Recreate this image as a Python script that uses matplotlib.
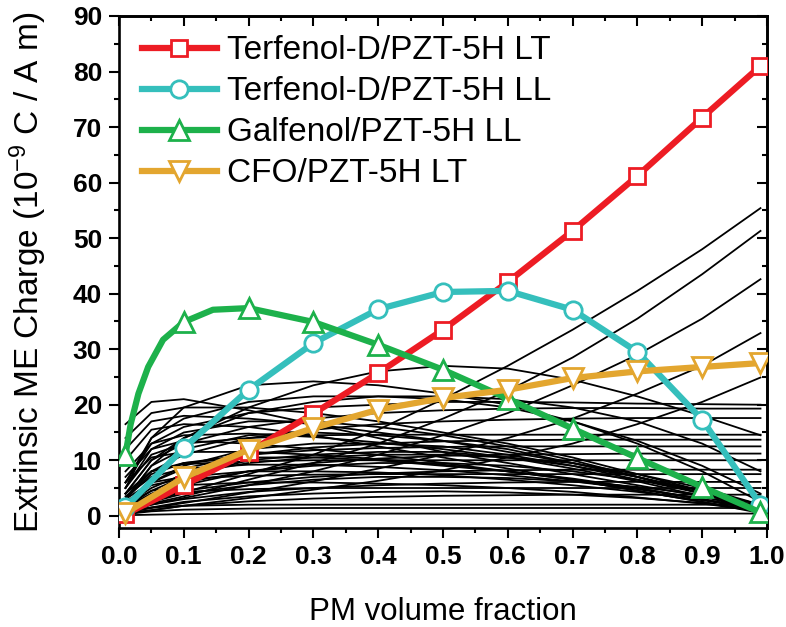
import matplotlib
matplotlib.use("Agg")
import matplotlib.pyplot as plt
from matplotlib.ticker import MultipleLocator

plt.rcParams['font.family'] = ['Liberation Sans', 'DejaVu Sans']
plt.rcParams['mathtext.default'] = 'regular'

# PM volume fraction where markers sit
x_pts = [0.01, 0.1, 0.2, 0.3, 0.4, 0.5, 0.6, 0.7, 0.8, 0.9, 0.99]

terf_lt = [0.3, 5.5, 11.5, 18.4, 25.7, 33.5, 42.1, 51.3, 61.2, 71.7, 81.0]
terf_ll = [1.5, 12.2, 22.7, 31.1, 37.2, 40.3, 40.5, 37.1, 29.5, 17.3, 2.0]
cfo_lt = [0.5, 6.9, 11.9, 15.8, 19.1, 21.2, 22.7, 24.8, 26.0, 26.8, 27.5]

# galfenol curve read at a few extra places near the steep start
galf_x = [0.01, 0.018, 0.03, 0.045, 0.068, 0.1, 0.145, 0.2, 0.3, 0.4, 0.5, 0.6, 0.7, 0.8, 0.9, 0.99]
galf_ll = [11.0, 16.5, 22.0, 26.8, 31.7, 34.9, 37.1, 37.4, 34.9, 30.8, 26.3, 21.1, 15.7, 10.4, 5.2, 0.6]
galf_marks = [0, 5, 7, 8, 9, 10, 11, 12, 13, 14, 15]

# thin black background curves
x_bg = [0.01, 0.05, 0.1, 0.2, 0.3, 0.4, 0.5, 0.6, 0.7, 0.8, 0.9, 0.99]
bg_curves = [
    [1.5, 2.8, 4.2, 7.5, 11, 15.5, 21, 27, 33.5, 40.5, 48, 55.4],
    [1.0, 2.2, 3.5, 6.5, 9.5, 13, 17.5, 22.5, 28.5, 35.5, 43.5, 51.3],
    [1.0, 2.0, 3.2, 5.5, 8, 11, 14.5, 18.5, 23.5, 29, 35.5, 42.6],
    [0.6, 1.4, 2.3, 4.2, 6.2, 8.5, 11, 14, 17.5, 22, 27, 32.9],
    [0.5, 1.0, 1.8, 3.2, 4.7, 6.3, 8.2, 10.5, 13, 16.5, 20.5, 24.9],
    [3, 9, 14, 19.5, 23.5, 26, 27, 26.5, 24.5, 21.5, 18, 14.5],
    [5, 14, 19.5, 23.5, 24.2, 23.5, 22, 20, 17, 13, 8, 2.5],
    [16.5, 20.5, 21, 19, 16.5, 14, 11.5, 9.5, 7.5, 5.5, 3.5, 1.2],
    [6, 14, 17.5, 20.5, 21.5, 21.5, 21, 19.5, 17, 13.5, 9, 4],
    [4, 10, 14, 18.5, 20.5, 21.5, 21.5, 21, 19.5, 17, 13, 8],
    [12, 17, 18, 17.5, 16.5, 15, 13.5, 11.5, 9.5, 7, 4, 1],
    [14, 18.5, 19.5, 19.5, 18.5, 17, 15, 13, 10.5, 7.5, 4.5, 1.5],
    [6, 13, 16, 18.5, 19.5, 20, 20.5, 20.5, 20.4, 20.2, 20.1, 20.0],
    [4, 10, 13, 16, 17.5, 18.5, 19, 19.3, 19.4, 19.4, 19.3, 19.3],
    [3, 8, 11, 14, 15.5, 16.5, 17, 17.3, 17.5, 17.6, 17.6, 17.6],
    [5, 11, 13, 14, 14.5, 14.6, 14.6, 14.6, 14.6, 14.6, 14.6, 14.6],
    [2, 6, 8.5, 11, 12.3, 13, 13.4, 13.6, 13.7, 13.7, 13.7, 13.7],
    [3, 7.5, 9.5, 11, 11.8, 12.2, 12.4, 12.5, 12.5, 12.5, 12.5, 12.5],
    [1.5, 4, 6, 8, 9.5, 10.3, 10.8, 11, 11.1, 11.2, 11.2, 11.2],
    [4, 8, 9.3, 9.8, 10, 10, 10, 10, 10, 10, 10, 10],
    [1, 3, 4.5, 6, 7, 7.6, 8, 8.2, 8.3, 8.3, 8.3, 8.3],
    [2.5, 5.5, 6.7, 7.2, 7.4, 7.5, 7.5, 7.5, 7.5, 7.5, 7.5, 7.5],
    [0.5, 2, 3, 4.3, 5, 5.5, 5.8, 6, 6.1, 6.1, 6.1, 6.1],
    [1.5, 3.5, 4.3, 4.8, 5, 5, 5, 5, 5, 5, 5, 5],
    [0.3, 1, 1.8, 2.6, 3.1, 3.4, 3.6, 3.7, 3.8, 3.8, 3.8, 3.8],
    [0.8, 1.5, 1.8, 2, 2, 2, 2, 2, 2, 2, 2, 2],
    [0.1, 0.2, 0.3, 0.4, 0.4, 0.4, 0.4, 0.4, 0.4, 0.4, 0.4, 0.4],
    [0.3, 0.8, 1.1, 1.3, 1.4, 1.4, 1.4, 1.4, 1.4, 1.4, 1.4, 1.4],
    [5, 12, 15, 17, 17, 16, 14.5, 12.5, 10, 7, 4, 1],
    [3, 9, 12, 14.5, 15, 14.5, 13.5, 12, 9.5, 7, 4, 1.2],
    [2, 6, 9, 12, 13, 13, 12.5, 11, 9, 6.5, 4, 1.5],
    [7, 12, 13.5, 13, 12, 11, 9.5, 8, 6.5, 4.5, 2.5, 0.8],
    [1.5, 4.5, 7, 10, 11, 11.5, 11.5, 10.5, 9, 7, 4.5, 2],
    [4, 8, 9.5, 10.5, 10.5, 10, 9, 8, 6.5, 5, 3, 1],
    [1, 3.5, 5.5, 8, 9, 9.5, 9.5, 9, 8, 6.5, 4.5, 2],
    [3, 6, 7, 8, 8, 7.8, 7.3, 6.5, 5.5, 4.3, 2.8, 1.2],
    [0.8, 2.5, 4, 5.5, 6.5, 7, 7, 6.8, 6.2, 5.2, 3.8, 1.8],
    [2, 4.5, 5.5, 6, 6, 5.8, 5.5, 5, 4.3, 3.3, 2.2, 0.8],
    [0.5, 1.5, 2.5, 3.5, 4, 4.3, 4.4, 4.2, 3.8, 3.2, 2.3, 1],
    [10, 15.5, 16.5, 16, 14.5, 12.5, 10.5, 8.5, 6.5, 4.5, 2.5, 0.5],
    [6, 10.5, 11.5, 11.5, 11, 10.2, 9.2, 8, 6.7, 5, 3, 1],
    [2, 5, 7.5, 9.5, 10.5, 11, 11, 10.5, 9.5, 7.5, 5, 2],
    [8, 13, 14.5, 14.8, 14.2, 13.2, 12, 10.5, 8.5, 6.2, 3.5, 0.9],
    [3.5, 7, 8.5, 9.2, 9.2, 8.8, 8.2, 7.3, 6.2, 4.8, 3, 1.1],
]

labels = ["Terfenol-D/PZT-5H LT", "Terfenol-D/PZT-5H LL",
          "Galfenol/PZT-5H LL", "CFO/PZT-5H LT"]
c_red = '#ED1C24'
c_cyan = '#35BFBC'
c_green = '#1DB14B'
c_gold = '#E3A62F'

fig = plt.figure(figsize=(7.86, 6.27), dpi=100)
ax = fig.add_axes([0.1514, 0.1579, 0.8244, 0.8166])

for yy in bg_curves:
    ax.plot(x_bg, yy, color='black', lw=1.3, zorder=1)

lw = 4.5
mew = 2.0
ax.plot(x_pts, terf_lt, color=c_red, lw=lw, marker='s', ms=11, mfc='white',
        mec=c_red, mew=mew, label=labels[0], zorder=3)
ax.plot(x_pts, terf_ll, color=c_cyan, lw=lw, marker='o', ms=12.5, mfc='white',
        mec=c_cyan, mew=mew, label=labels[1], zorder=4)
ax.plot(galf_x, galf_ll, color=c_green, lw=lw, marker='^', ms=14, mfc='white',
        mec=c_green, mew=mew, markevery=galf_marks, label=labels[2], zorder=5)
ax.plot(x_pts, cfo_lt, color=c_gold, lw=lw, marker='v', ms=14, mfc='white',
        mec=c_gold, mew=mew, label=labels[3], zorder=6)

ax.set_xlim(0, 1.0)
ax.set_ylim(-2.2, 90)
ax.xaxis.set_major_locator(MultipleLocator(0.1))
ax.xaxis.set_minor_locator(MultipleLocator(0.05))
ax.yaxis.set_major_locator(MultipleLocator(10))
ax.yaxis.set_minor_locator(MultipleLocator(5))
ax.xaxis.set_major_formatter(plt.FuncFormatter(lambda v, p: '%.1f' % v))
ax.yaxis.set_major_formatter(plt.FuncFormatter(lambda v, p: '%d' % round(v)))

for s in ax.spines.values():
    s.set_linewidth(1.9)
ax.tick_params(which='major', direction='out', length=7.2, width=1.5,
               labelsize=19, pad=5)
ax.tick_params(which='minor', direction='out', length=3.6, width=1.5)

# inward ticks on top and right, like the original plot
top = ax.secondary_xaxis('top')
top.xaxis.set_major_locator(MultipleLocator(0.1))
top.xaxis.set_minor_locator(MultipleLocator(0.05))
top.tick_params(which='major', direction='in', length=7.2, width=1.5, labeltop=False)
top.tick_params(which='minor', direction='in', length=3.6, width=1.5)
right = ax.secondary_yaxis('right')
right.yaxis.set_major_locator(MultipleLocator(10))
right.yaxis.set_minor_locator(MultipleLocator(5))
right.tick_params(which='major', direction='in', length=7.2, width=1.5, labelright=False)
right.tick_params(which='minor', direction='in', length=3.6, width=1.5)
top.spines['top'].set_linewidth(1.9)
right.spines['right'].set_linewidth(1.9)

ax.set_xlabel("PM volume fraction", fontsize=22.5, labelpad=20)
ax.set_ylabel("Extrinsic ME Charge (10$^{-9}$ C / A m)", fontsize=24, labelpad=17)

ax.legend(loc='upper left', bbox_to_anchor=(0.035, 0.962), frameon=False,
          fontsize=24, handlelength=2.25, handletextpad=0.3, labelspacing=0.3,
          borderaxespad=0, borderpad=0)

for t in ax.get_xticklabels() + ax.get_yticklabels():
    t.set_fontweight('bold')

fig.savefig("out.png", dpi=100)
